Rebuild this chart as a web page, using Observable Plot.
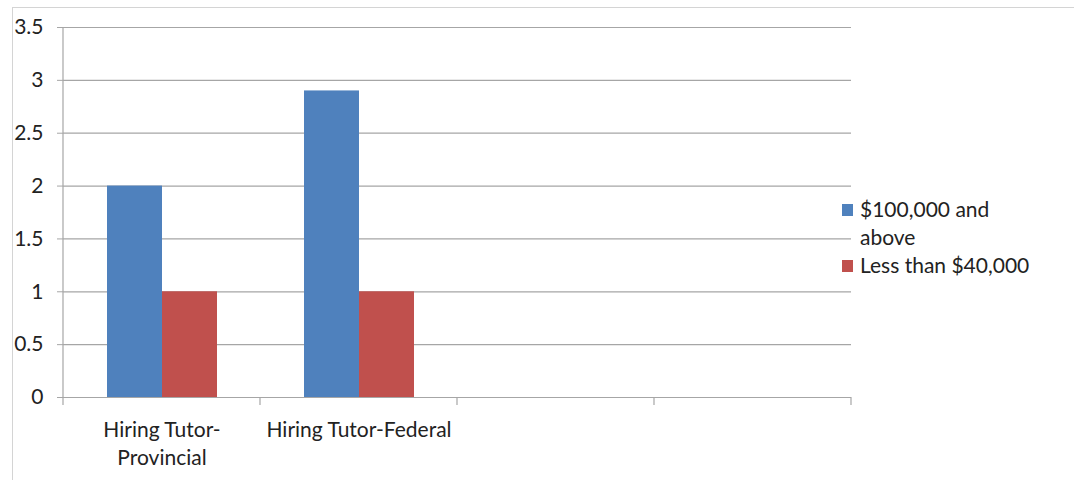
<!DOCTYPE html>
<html>
<head>
<meta charset="utf-8">
<script src="https://cdn.jsdelivr.net/npm/d3@7"></script>
<script src="https://cdn.jsdelivr.net/npm/@observablehq/plot@0.6"></script>
<style>
  html, body { margin: 0; padding: 0; background: #fff; }
  #wrap { position: relative; width: 1074px; height: 480px; overflow: hidden; font-family: Lato, "Open Sans", sans-serif; color: #222; }
  #border { position: absolute; left: 12px; top: 7px; width: 1200px; height: 600px; border-left: 1px solid #d4d4d4; border-top: 1px solid #d4d4d4; }
  #chart { position: absolute; left: 0; top: 0; }
  #legend { position: absolute; left: 842px; top: 195px; font-size: 21px; line-height: 28px; }
  .item { display: flex; align-items: flex-start; }
  .sw { width: 11px; height: 12px; margin-top: 9px; margin-right: 7px; flex: none; }
  .lab { width: 180px; }
</style>
</head>
<body>
<div id="wrap">
  <div id="border"></div>
  <div id="chart"></div>
  <div id="legend"></div>
</div>
<script>
const categories = ["Hiring Tutor-Provincial", "Hiring Tutor-Federal", "", " "];
const categoryLabels = ["Hiring Tutor-\nProvincial", "Hiring Tutor-Federal", "", ""];
const seriesNames = ["$100,000 and above", "Less than $40,000"];
const seriesColors = ["#4F81BD", "#C0504D"];
const values100k = [2, 2.9];
const valuesLess40k = [1, 1];
const yTicks = [0, 0.5, 1, 1.5, 2, 2.5, 3, 3.5];

const data = [];
[values100k, valuesLess40k].forEach((vals, si) => {
  vals.forEach((v, ci) => data.push({cat: categories[ci], series: seriesNames[si], value: v}));
});
const grid = categories.flatMap(c => yTicks.map(t => ({cat: c, tick: t})));

const labelOf = new Map(categories.map((c, i) => [c, categoryLabels[i]]));

const plot = Plot.plot({
  width: 1074,
  height: 480,
  marginLeft: 63,
  marginRight: 223,
  marginTop: 27,
  marginBottom: 83,
  style: {fontFamily: "Lato, 'Open Sans', sans-serif", fontSize: "21px", color: "#222", background: "transparent"},
  fx: {domain: categories, padding: 0, axis: null, label: null},
  x: {domain: seriesNames, paddingInner: 0, paddingOuter: 0.775, axis: null, label: null},
  y: {domain: [0, 3.5], axis: null, label: null},
  color: {domain: seriesNames, range: seriesColors},
  marks: [
    Plot.ruleY(grid, {fx: "cat", y: "tick", stroke: "#a6a6a6", strokeWidth: 1.2}),
    Plot.barY(data, {fx: "cat", x: "series", y: "value", fill: "series"}),
    Plot.axisY(yTicks, {anchor: "left", label: null, tickSize: 6, tickPadding: 14, fontSize: 21, stroke: "#a6a6a6", fill: "#222", tickFormat: d => String(d)}),
    Plot.axisFx({anchor: "bottom", label: null, tickSize: 0, tickPadding: 20, fontSize: 21, lineHeight: 1.33, fill: "#222", tickFormat: d => labelOf.get(d)})
  ]
});
document.getElementById("chart").appendChild(plot);

// y-axis line and category boundary ticks
const fx = plot.scale("fx");
const y = plot.scale("y");
const svg = d3.select(plot);
const g = svg.append("g").attr("stroke", "#a6a6a6").attr("stroke-width", 1.2);
const x0 = fx.apply(categories[0]);
g.append("line").attr("x1", x0).attr("x2", x0).attr("y1", y.apply(0)).attr("y2", y.apply(3.5));
const bounds = categories.map(c => fx.apply(c)).concat([fx.apply(categories[categories.length - 1]) + fx.bandwidth]);
bounds.forEach(b => {
  g.append("line").attr("x1", b).attr("x2", b).attr("y1", y.apply(0)).attr("y2", y.apply(0) + 8);
});

// legend
const legend = d3.select("#legend");
seriesNames.forEach((s, i) => {
  const it = legend.append("div").attr("class", "item");
  it.append("div").attr("class", "sw").style("background", seriesColors[i]);
  it.append("div").attr("class", "lab").text(s);
});
</script>
</body>
</html>
